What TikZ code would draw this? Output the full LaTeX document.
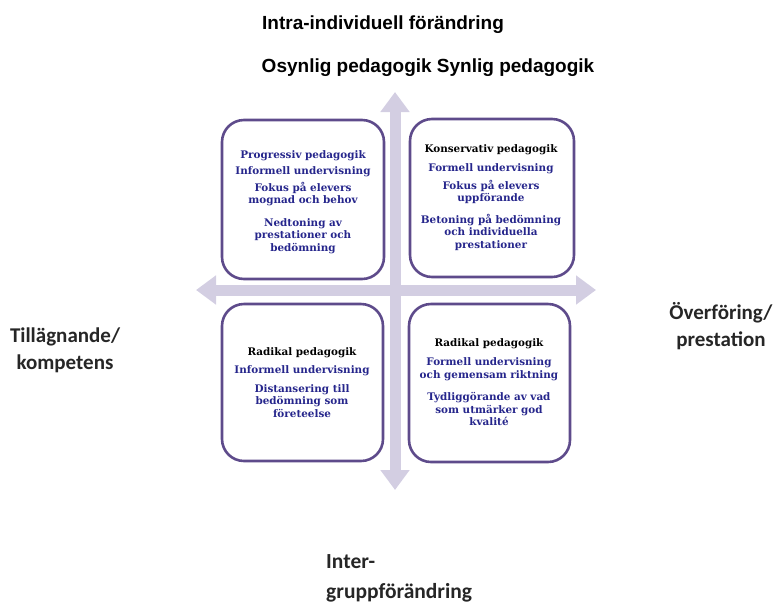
\documentclass[tikz,border=0pt]{standalone}
\usepackage{fontspec}
\usepackage{graphicx}
\setmainfont{DejaVu Serif}
\newfontfamily\headfont{Liberation Sans}
\newfontfamily\sidefont{Carlito}
\usetikzlibrary{arrows.meta}
\definecolor{boxline}{RGB}{94,75,139}
\definecolor{arrowfill}{RGB}{211,206,226}
\definecolor{navytext}{RGB}{38,38,140}
\tikzset{
  quadbox/.style={draw=boxline, line width=2.6pt, rounded corners=22pt, fill=white},
  axisarrow/.style={draw=arrowfill, line width=11pt, {Triangle[width=28pt,length=20pt]}-{Triangle[width=28pt,length=20pt]}},
  boxtext/.style={align=center, inner sep=0pt, text=navytext, font=\fontsize{10.4}{12.5}\selectfont\bfseries},
  headtext/.style={inner sep=0pt, font=\headfont\fontsize{19}{22}\selectfont\bfseries},
  sidetext/.style={inner sep=0pt, align=center, font=\sidefont\fontsize{21}{27}\selectfont\bfseries, text=black!85},
}
\begin{document}
\begin{tikzpicture}[x=1pt,y=-1pt]
\useasboundingbox (0,0) rectangle (775,603);
% axes
\coordinate (vtop) at (395,92);
\coordinate (vbot) at (395,490);
\coordinate (hleft) at (196,290);
\coordinate (hright) at (596,290);
\draw[axisarrow] (vbot) -- (vtop);
\draw[axisarrow] (hleft) -- (hright);
% boxes
\path[quadbox] (222,120) rectangle (384,279);
\path[quadbox] (410,119) rectangle (574,277);
\path[quadbox] (222,304) rectangle (383,461);
\path[quadbox] (409,304) rectangle (570,462);
% top-left text
\node[boxtext] (tl1) at (303,156) {Progressiv pedagogik};
\node[boxtext] (tl2) at (303,172) {Informell undervisning};
\node[boxtext] (tl3) at (303,194) {Fokus på elevers\\mognad och behov};
\node[boxtext] (tl4) at (303,236) {Nedtoning av\\prestationer och\\bedömning};
% top-right text
\node[boxtext, text=black] (tr1) at (491,150) {Konservativ pedagogik};
\node[boxtext] (tr2) at (491,169) {Formell undervisning};
\node[boxtext] (tr3) at (491,192) {Fokus på elevers\\uppförande};
\node[boxtext] (tr4) at (491,232) {Betoning på bedömning\\och individuella\\prestationer};
% bottom-left text
\node[boxtext, text=black] (bl1) at (302,353) {Radikal pedagogik};
\node[boxtext] (bl2) at (302,371) {Informell undervisning};
\node[boxtext] (bl3) at (302,401) {Distansering till\\bedömning som\\företeelse};
% bottom-right text
\node[boxtext, text=black] (br1) at (489,344) {Radikal pedagogik};
\node[boxtext] (br2) at (489,369) {Formell undervisning\\och gemensam riktning};
\node[boxtext] (br3) at (489,409) {Tydliggörande av vad\\som utmärker god\\kvalité};
% headings
\node[headtext] (h1) at (383,25) {Intra-individuell förändring};
\node[headtext] (h2) at (428,68) {Osynlig pedagogik Synlig pedagogik};
\node[sidetext] (left) at (65,350) {Tillägnande/\\kompetens};
\node[sidetext] (right) at (721,326) {Överföring/\\prestation};
\node[sidetext, align=left, anchor=west, font=\sidefont\fontsize{21.5}{30}\selectfont\bfseries] (bottom) at (326,578) {Inter-\\gruppförändring};
\end{tikzpicture}
\end{document}
